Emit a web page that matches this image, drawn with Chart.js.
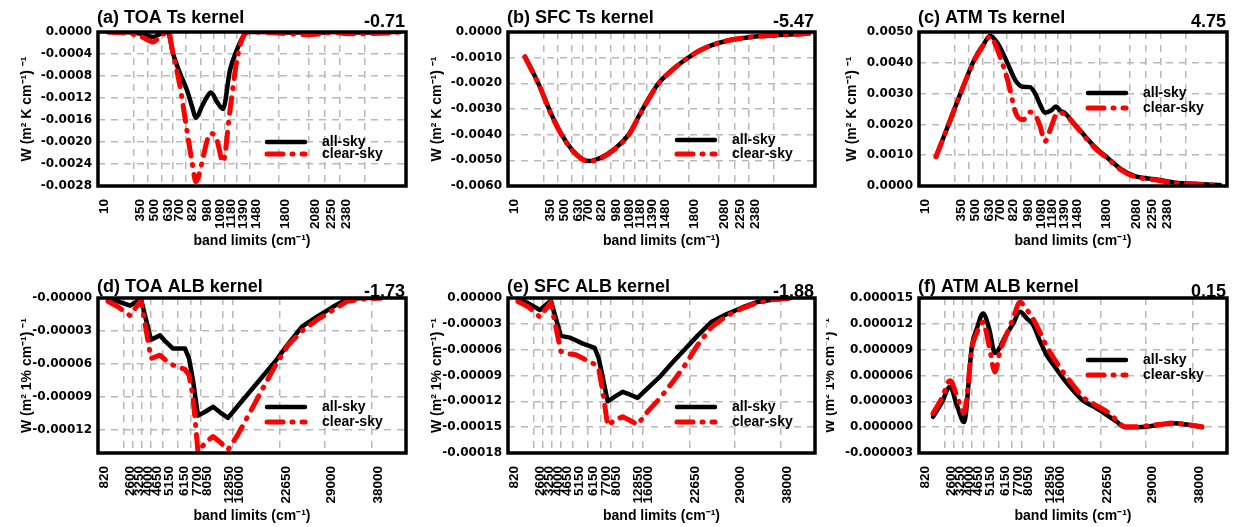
<!DOCTYPE html>
<html><head><meta charset="utf-8">
<script src="https://cdn.jsdelivr.net/npm/chart.js@4.4.1/dist/chart.umd.min.js"></script>
<style>
html,body{margin:0;padding:0;background:#fff;}
#wrap{position:relative;width:1240px;height:527px;overflow:hidden;background:#fff;}
canvas{position:absolute;}
</style></head><body><div id="wrap">
<canvas id="ca" width="413" height="262" style="left:0px;top:0px"></canvas>
<canvas id="cb" width="413" height="262" style="left:413px;top:0px"></canvas>
<canvas id="cc" width="414" height="262" style="left:826px;top:0px"></canvas>
<canvas id="cd" width="413" height="265" style="left:0px;top:262px"></canvas>
<canvas id="ce" width="413" height="265" style="left:413px;top:262px"></canvas>
<canvas id="cf" width="414" height="265" style="left:826px;top:262px"></canvas>
</div>
<script>
// ---- x-axis band limits (tick positions along the band axis, and their labels)
const lwTickPos = [0, 36, 50, 64, 75, 88, 103, 116, 127, 139, 152, 181, 211, 227, 242, 267];
const lwTickLabels = ['10','350','500','630','700','820','980','1080','1180','1390','1480','1800','2080','2250','2380',''];
const swTickPos = [0, 26, 35, 44, 53, 65, 80, 93, 103, 125, 135, 182, 227, 274];
const swTickLabels = ['820','2600','3250','4000','4650','5150','6150','7700','8050','12850','16000','22650','29000','38000'];

// ---- (a) TOA Ts kernel
const aX = [10, 20, 35, 45, 55, 63, 70, 75, 82, 89, 94, 98, 104, 109, 113, 119, 125, 132, 139, 145, 150, 170, 190, 210, 225, 235, 250, 270, 290, 302];
const aAll = [0, 0, -0.00001, -0.00004, -0.00009, -0.00003, 0, -0.00039, -0.00075, -0.00106, -0.00135, -0.00156, -0.00135, -0.00118, -0.00110, -0.00127, -0.00140, -0.00069, -0.00032, -0.00009, 0, 0, -0.00001, -0.00001, -0.00001, 0, -0.00001, -0.00001, 0, 0];
const aClear = [0, -0.00001, -0.00004, -0.00010, -0.00018, -0.00007, 0, -0.00039, -0.00099, -0.00180, -0.00236, -0.00272, -0.00237, -0.00198, -0.00184, -0.00197, -0.00236, -0.00142, -0.00050, -0.00009, 0, -0.00001, -0.00003, -0.00005, -0.00003, -0.00001, -0.00003, -0.00003, -0.00002, 0];
const aYTicks = [0, -0.0004, -0.0008, -0.0012, -0.0016, -0.0020, -0.0024, -0.0028];
const aYLabels = ['0.0000','-0.0004','-0.0008','-0.0012','-0.0016','-0.0020','-0.0024','-0.0028'];

// ---- (b) SFC Ts kernel
const bX = [17, 31, 44, 57, 69, 81, 94, 107, 121, 131, 141, 151, 164, 177, 191, 204, 221, 237, 254, 271, 287, 302];
const bAll = [-0.00096, -0.00205, -0.00325, -0.00420, -0.00478, -0.00503, -0.00488, -0.00455, -0.00400, -0.00330, -0.00260, -0.00200, -0.00150, -0.00110, -0.00075, -0.00052, -0.00033, -0.00023, -0.00016, -0.00012, -0.00009, -0.00005];
const bClear = [-0.00097, -0.00206, -0.00327, -0.00422, -0.00480, -0.00505, -0.00490, -0.00457, -0.00402, -0.00332, -0.00262, -0.00201, -0.00151, -0.00110, -0.00075, -0.00052, -0.00033, -0.00023, -0.00016, -0.00012, -0.00009, -0.00005];
const bYTicks = [0, -0.001, -0.002, -0.003, -0.004, -0.005, -0.006];
const bYLabels = ['0.0000','-0.0010','-0.0020','-0.0030','-0.0040','-0.0050','-0.0060'];

// ---- (c) ATM Ts kernel
const cX = [17, 29, 42, 56, 65, 71, 76, 81, 89, 97, 104, 111, 117, 121, 126, 132, 137, 141, 146, 150, 159, 176, 189, 202, 216, 236, 256, 276, 301];
const cAll = [0.00095, 0.00195, 0.00305, 0.00415, 0.00462, 0.00488, 0.00475, 0.00450, 0.00395, 0.00340, 0.00322, 0.00321, 0.00295, 0.00265, 0.00238, 0.00245, 0.00258, 0.00245, 0.00236, 0.00222, 0.00188, 0.00126, 0.00090, 0.00055, 0.00032, 0.00022, 0.00011, 0.00007, 0.00003];
const cClear = [0.00095, 0.00195, 0.00305, 0.00412, 0.00460, 0.00485, 0.00462, 0.00420, 0.00340, 0.00235, 0.00215, 0.00240, 0.00225, 0.00195, 0.00145, 0.00190, 0.00232, 0.00238, 0.00232, 0.00220, 0.00186, 0.00123, 0.00088, 0.00052, 0.00030, 0.00020, 0.00010, 0.00006, 0.00002];
const cYTicks = [0, 0.001, 0.002, 0.003, 0.004, 0.005];
const cYLabels = ['0.0000','0.0010','0.0020','0.0030','0.0040','0.0050'];

// ---- (d) TOA ALB kernel
const dX = [10, 20, 32, 43, 53, 62, 68, 75, 87, 91, 95, 100, 108, 115, 122, 130, 140, 152, 165, 177, 190, 204, 219, 235, 249, 265, 283];
const dAll = [-0.000001, -0.000003, -0.000007, -0.000001, -0.000038, -0.000034, -0.000040, -0.000046, -0.000046, -0.000055, -0.000075, -0.000107, -0.000103, -0.000099, -0.000104, -0.000109, -0.000098, -0.000085, -0.000071, -0.000058, -0.000042, -0.000026, -0.000017, -0.000008, -0.000001, 0, 0];
const dClear = [-0.000003, -0.000008, -0.000016, -0.000002, -0.000055, -0.000052, -0.000057, -0.000061, -0.000065, -0.000070, -0.000090, -0.000140, -0.000131, -0.000126, -0.000131, -0.000138, -0.000124, -0.000104, -0.000082, -0.000062, -0.000043, -0.000030, -0.000020, -0.000011, -0.000003, -0.000001, 0];
const dYTicks = [0, -0.00003, -0.00006, -0.00009, -0.00012];
const dYLabels = ['-0.00000','-0.00003','-0.00006','-0.00009','-0.00012'];

// ---- (e) SFC ALB kernel
const eX = [10, 20, 32, 43, 53, 62, 68, 75, 87, 91, 95, 100, 108, 115, 122, 130, 140, 152, 165, 177, 190, 204, 219, 235, 249, 265, 283];
const eAll = [-0.000001, -0.000006, -0.000014, -0.000003, -0.000044, -0.000046, -0.000049, -0.000053, -0.000058, -0.000070, -0.000092, -0.000120, -0.000114, -0.000109, -0.000112, -0.000116, -0.000105, -0.000092, -0.000075, -0.000060, -0.000044, -0.000028, -0.000019, -0.000011, -0.000005, -0.000002, 0];
const eClear = [-0.000004, -0.000010, -0.000022, -0.000005, -0.000062, -0.000065, -0.000066, -0.000070, -0.000077, -0.000082, -0.000108, -0.000148, -0.000141, -0.000138, -0.000142, -0.000147, -0.000132, -0.000117, -0.000098, -0.000079, -0.000055, -0.000034, -0.000021, -0.000012, -0.000006, -0.000002, 0];
const eYTicks = [0, -0.00003, -0.00006, -0.00009, -0.00012, -0.00015, -0.00018];
const eYLabels = ['0.00000','-0.00003','-0.00006','-0.00009','-0.00012','-0.00015','-0.00018'];

// ---- (f) ATM ALB kernel
const fX = [14, 23, 31, 38, 45, 53, 58, 64, 70, 76, 81, 86, 94, 101, 108, 114, 121, 128, 136, 144, 154, 164, 176, 188, 197, 206, 218, 231, 243, 254, 268, 283];
const fAll = [1.2e-6, 2.9e-6, 4.7e-6, 2.5e-6, 0.6e-6, 9.5e-6, 11.5e-6, 13.2e-6, 11.5e-6, 8.6e-6, 9.3e-6, 10.5e-6, 12.0e-6, 13.4e-6, 12.6e-6, 11.9e-6, 10.0e-6, 8.3e-6, 7.0e-6, 5.7e-6, 4.3e-6, 3.1e-6, 2.3e-6, 1.4e-6, 0.7e-6, 0, 0, 0.1e-6, 0.3e-6, 0.45e-6, 0.3e-6, 0];
const fClear = [1.6e-6, 3.4e-6, 5.4e-6, 3.6e-6, 1.7e-6, 9.2e-6, 11.0e-6, 12.2e-6, 9.5e-6, 6.4e-6, 8.8e-6, 10.3e-6, 12.6e-6, 14.5e-6, 13.6e-6, 12.6e-6, 11.0e-6, 9.3e-6, 7.8e-6, 6.4e-6, 4.9e-6, 3.5e-6, 2.6e-6, 1.8e-6, 0.9e-6, 0.05e-6, 0.05e-6, 0.2e-6, 0.35e-6, 0.5e-6, 0.3e-6, 0.05e-6];
const fYTicks = [0.000015, 0.000012, 0.000009, 0.000006, 0.000003, 0, -0.000003];
const fYLabels = ['0.000015','0.000012','0.000009','0.000006','0.000003','0.000000','-0.000003'];

const seriesNames = ['all-sky', 'clear-sky'];

// ---- styling / layout
const SANS = "'Liberation Sans', Arial, Helvetica, sans-serif";
const TICKFONT = "'DejaVu Sans', 'Liberation Sans', sans-serif";
const RED_DASH = [16, 9, 1, 9];
const GRID = '#b9b9b9';

const panels = [
  {id:'ca', title:'(a) TOA Ts kernel', value:'-0.71', x:aX, all:aAll, clear:aClear, yT:aYTicks, yL:aYLabels, yMin:-0.0028, yMax:0,
   xT:lwTickPos, xL:lwTickLabels, yTitle:'W (m² K cm⁻¹) ⁻¹', smooth:true,
   yWidth:98, padRight:7, padTop:32, xHeight:76, xTitlePad:12, yTitlePad:18.6, titleBase:23, valBase:27, leg:[110,122]},
  {id:'cb', title:'(b) SFC Ts kernel', value:'-5.47', x:bX, all:bAll, clear:bClear, yT:bYTicks, yL:bYLabels, yMin:-0.006, yMax:0,
   xT:lwTickPos, xL:lwTickLabels, yTitle:'W (m² K cm⁻¹) ⁻¹', smooth:true,
   yWidth:95, padRight:11, padTop:32, xHeight:76, xTitlePad:12, yTitlePad:15.6, titleBase:23, valBase:27, leg:[108,122]},
  {id:'cc', title:'(c) ATM Ts kernel', value:'4.75', x:cX, all:cAll, clear:cClear, yT:cYTicks, yL:cYLabels, yMin:0, yMax:0.005,
   xT:lwTickPos, xL:lwTickLabels, yTitle:'W (m² K cm⁻¹) ⁻¹', smooth:true,
   yWidth:93, padRight:13, padTop:32, xHeight:76, xTitlePad:12, yTitlePad:17.6, titleBase:23, valBase:27, leg:[61,76]},
  {id:'cd', title:'(d) TOA ALB kernel', value:'-1.73', x:dX, all:dAll, clear:dClear, yT:dYTicks, yL:dYLabels, yMin:-0.000141, yMax:0,
   xT:swTickPos, xL:swTickLabels, yTitle:'W (m² 1% cm⁻¹) ⁻¹', smooth:false,
   yWidth:98, padRight:7, padTop:36, xHeight:74, xTitlePad:2, yTitlePad:18.6, titleBase:30, valBase:35, leg:[109,124]},
  {id:'ce', title:'(e) SFC ALB kernel', value:'-1.88', x:eX, all:eAll, clear:eClear, yT:eYTicks, yL:eYLabels, yMin:-0.00018, yMax:0,
   xT:swTickPos, xL:swTickLabels, yTitle:'W (m² 1% cm⁻¹) ⁻¹', smooth:false,
   yWidth:95, padRight:11, padTop:36, xHeight:74, xTitlePad:2, yTitlePad:15.6, titleBase:30, valBase:35, leg:[109,124]},
  {id:'cf', title:'(f) ATM ALB kernel', value:'0.15', x:fX, all:fAll, clear:fClear, yT:fYTicks, yL:fYLabels, yMin:-0.000003, yMax:0.000015,
   xT:swTickPos, xL:swTickLabels, yTitle:'W (m² 1% cm⁻¹) ⁻¹', smooth:true,
   yWidth:93, padRight:13, padTop:36, xHeight:74, xTitlePad:2, yTitlePad:-4.4, titleBase:30, valBase:35, leg:[62,77]}
];

function decor(p) {
  return {
    id: 'decor_' + p.id,
    afterDatasetsDraw(chart) {
      const ctx = chart.ctx, a = chart.chartArea;
      ctx.save();
      // frame
      ctx.setLineDash([]);
      ctx.lineWidth = 3.5;
      ctx.strokeStyle = '#000';
      ctx.strokeRect(a.left, a.top, a.right - a.left, a.bottom - a.top);
      // legend
      const x0 = a.left + 169, x1 = a.left + 207, tx = a.left + 224;
      ctx.lineCap = 'round';
      ctx.lineWidth = 4.5; ctx.strokeStyle = '#000'; ctx.setLineDash([]);
      ctx.beginPath(); ctx.moveTo(x0, a.top + p.leg[0]); ctx.lineTo(x1, a.top + p.leg[0]); ctx.stroke();
      ctx.lineWidth = 5; ctx.strokeStyle = '#ff0000'; ctx.setLineDash(RED_DASH);
      ctx.beginPath(); ctx.moveTo(x0, a.top + p.leg[1]); ctx.lineTo(x1, a.top + p.leg[1]); ctx.stroke();
      ctx.setLineDash([]);
      ctx.fillStyle = '#000';
      ctx.font = 'bold 14px ' + SANS;
      ctx.textAlign = 'left'; ctx.textBaseline = 'middle';
      ctx.fillText(seriesNames[0], tx, a.top + p.leg[0]);
      ctx.fillText(seriesNames[1], tx, a.top + p.leg[1]);
      // panel title and value
      ctx.font = 'bold 18px ' + SANS;
      ctx.textBaseline = 'alphabetic';
      ctx.textAlign = 'left';
      ctx.fillText(p.title, a.left - 1, p.titleBase);
      ctx.textAlign = 'right';
      ctx.fillText(p.value, a.right - 1, p.valBase);
      ctx.restore();
    }
  };
}

function makeChart(p) {
  const pts = (ys) => p.x.map((x, i) => ({x: x, y: ys[i]}));
  const interp = p.smooth ? 'monotone' : 'default';
  return new Chart(document.getElementById(p.id), {
    type: 'line',
    data: {
      datasets: [
        {label: seriesNames[0], data: pts(p.all), borderColor: '#000', backgroundColor: '#000',
         borderWidth: 4.5, pointRadius: 0, tension: 0, cubicInterpolationMode: interp,
         borderCapStyle: 'round', borderJoinStyle: 'round', order: 2, fill: false},
        {label: seriesNames[1], data: pts(p.clear), borderColor: '#ff0000', backgroundColor: '#ff0000',
         borderWidth: 5, borderDash: RED_DASH, pointRadius: 0, tension: 0, cubicInterpolationMode: interp,
         borderCapStyle: 'round', borderJoinStyle: 'round', order: 1, fill: false}
      ]
    },
    options: {
      responsive: false, animation: false, devicePixelRatio: 1,
      layout: {padding: {left: 0, right: p.padRight, top: p.padTop, bottom: 0}},
      plugins: {legend: {display: false}, tooltip: {enabled: false}, title: {display: false}},
      scales: {
        x: {
          type: 'linear', min: 0, max: 308,
          afterBuildTicks: (s) => { s.ticks = p.xT.map(v => ({value: v})); },
          afterFit: (s) => { s.height = p.xHeight; },
          ticks: {
            autoSkip: false, maxRotation: 90, minRotation: 90, padding: 13, labelOffset: 6,
            color: '#000', font: {family: SANS, weight: 'bold', size: 13.5},
            callback: (v) => { const i = p.xT.indexOf(v); return i >= 0 ? p.xL[i] : ''; }
          },
          grid: {color: GRID, lineWidth: 1.5, drawTicks: false},
          border: {display: false, dash: [7, 6]},
          title: {display: true, text: 'band limits (cm⁻¹)', color: '#000',
                  font: {family: SANS, weight: 'bold', size: 14}, padding: {top: 0, bottom: p.xTitlePad}}
        },
        y: {
          type: 'linear', min: p.yMin, max: p.yMax,
          afterBuildTicks: (s) => { s.ticks = [...p.yT].sort((m, n) => m - n).map(v => ({value: v})); },
          afterFit: (s) => { s.width = p.yWidth; },
          ticks: {
            autoSkip: false, padding: 6, color: '#000',
            font: {family: TICKFONT, weight: 'bold', size: 12},
            callback: (v) => { const i = p.yT.indexOf(v); return i >= 0 ? p.yL[i] : ''; }
          },
          grid: {color: GRID, lineWidth: 1.5, drawTicks: false},
          border: {display: false, dash: [7, 6]},
          title: {display: true, text: p.yTitle, color: '#000',
                  font: {family: SANS, weight: 'bold', size: 14}, padding: {top: p.yTitlePad, bottom: 0}}
        }
      }
    },
    plugins: [decor(p)]
  });
}

panels.forEach(makeChart);
</script>
</body></html>
